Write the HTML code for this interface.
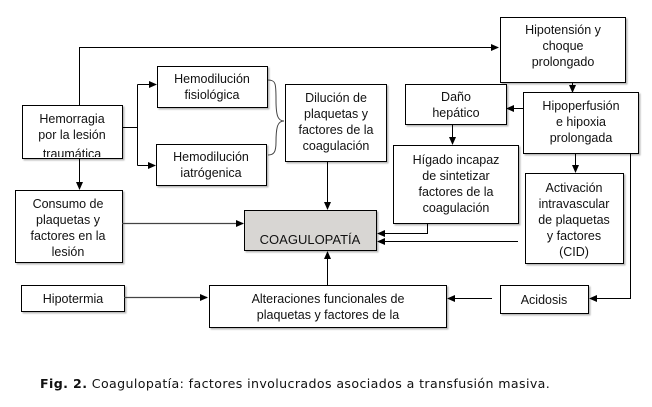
<!DOCTYPE html>
<html><head><meta charset="utf-8"><style>
body{margin:0;background:#fff;width:652px;height:407px;overflow:hidden}
svg{display:block}
text{font-family:"Liberation Sans",Arial,sans-serif;font-size:12.5px;fill:#111}
.cap{font-family:"DejaVu Sans",Verdana,sans-serif;font-size:12.6px;letter-spacing:0.2px}
</style></head><body>
<svg width="652" height="407" viewBox="0 0 652 407" xmlns="http://www.w3.org/2000/svg">
<defs>
<marker id="a" markerWidth="8" markerHeight="8" refX="7" refY="4" orient="auto" markerUnits="userSpaceOnUse"><path d="M0,0.5 L8,4 L0,7.5 z" fill="#000"/></marker>
<filter id="s" x="-5%" y="-5%" width="115%" height="120%"><feDropShadow dx="1.5" dy="1.5" stdDeviation="0.8" flood-color="#999" flood-opacity="0.7"/></filter>
</defs>
<g fill="#fff" stroke="#000" stroke-width="1" filter="url(#s)">
<rect x="22.5" y="105.5" width="100" height="53"/>
<rect x="15.5" y="190.5" width="107" height="72"/>
<rect x="157.5" y="66.5" width="110" height="41"/>
<rect x="156.5" y="144.5" width="110" height="41"/>
<rect x="285.5" y="84.5" width="101" height="77"/>
<rect x="244.5" y="210.5" width="132" height="40" fill="#d8d6d3"/>
<rect x="500.5" y="17.5" width="125" height="65"/>
<rect x="405.5" y="84.5" width="101" height="40"/>
<rect x="523.5" y="92.5" width="115" height="61"/>
<rect x="393.5" y="145.5" width="125" height="78"/>
<rect x="525.5" y="173.5" width="98" height="90"/>
<rect x="21.5" y="285.5" width="103" height="26"/>
<rect x="209.5" y="285.5" width="237" height="42"/>
<rect x="500.5" y="285.5" width="88" height="28"/>
</g>
<g stroke="#000" stroke-width="1" fill="none">
<polyline points="79.5,105 79.5,47.5 498,47.5" marker-end="url(#a)"/>
<line x1="79.5" y1="158" x2="79.5" y2="189" marker-end="url(#a)"/>
<polyline points="122,127.5 137.5,127.5"/>
<polyline points="137.5,84.5 137.5,165.5"/>
<line x1="137.5" y1="84.5" x2="156" y2="84.5" marker-end="url(#a)"/>
<line x1="137.5" y1="165.5" x2="155" y2="165.5" marker-end="url(#a)"/>
<path d="M268,80 C276,80 276,84 276,100 C276,116 278,121 284,121 C278,121 276,126 276,142 C276,152 274,155 268,155" stroke="#444"/>
<line x1="327.5" y1="162" x2="327.5" y2="209" marker-end="url(#a)"/>
<line x1="122" y1="223.5" x2="243" y2="223.5" stroke="#444" stroke-width="1.3" marker-end="url(#a)"/>
<line x1="572.5" y1="83" x2="572.5" y2="92" marker-end="url(#a)"/>
<line x1="523" y1="108.5" x2="507" y2="108.5" marker-end="url(#a)"/>
<line x1="452.5" y1="125" x2="452.5" y2="144" marker-end="url(#a)"/>
<polyline points="427.5,224 427.5,233.5 378,233.5" marker-end="url(#a)"/>
<line x1="518" y1="241.5" x2="378" y2="241.5" marker-end="url(#a)"/>
<line x1="575.5" y1="154" x2="575.5" y2="172" marker-end="url(#a)"/>
<polyline points="630.5,154 630.5,298.5 590,298.5" marker-end="url(#a)"/>
<line x1="492" y1="298.5" x2="448" y2="298.5" marker-end="url(#a)"/>
<line x1="327.5" y1="285" x2="327.5" y2="252" marker-end="url(#a)"/>
<line x1="124" y1="297.5" x2="207" y2="297.5" stroke="#444" stroke-width="1.3" marker-end="url(#a)"/>
</g>
<g text-anchor="middle">
<text x="72" y="123">Hemorragia</text><text x="72" y="139">por la lesión</text>
<svg x="22" y="106" width="100" height="51" overflow="hidden"><text x="50" y="52">traumática</text></svg>
<text x="68" y="208">Consumo de</text><text x="68" y="224">plaquetas y</text><text x="68" y="240">factores en la</text><text x="68" y="256">lesión</text>
<text x="212" y="83">Hemodilución</text><text x="212" y="99">fisiológica</text>
<text x="211" y="161">Hemodilución</text><text x="211" y="177">iatrógenica</text>
<text x="336" y="102">Dilución de</text><text x="336" y="118">plaquetas y</text><text x="336" y="134">factores de la</text><text x="336" y="150">coagulación</text>
<text x="310" y="244" style="font-size:13px">COAGULOPATÍA</text>
<text x="563" y="34">Hipotensión y</text><text x="563" y="50">choque</text><text x="563" y="66">prolongado</text>
<text x="456" y="101">Daño</text><text x="456" y="117">hepático</text>
<text x="581" y="110">Hipoperfusión</text><text x="581" y="126">e hipoxia</text><text x="581" y="142">prolongada</text>
<text x="456" y="164">Hígado incapaz</text><text x="456" y="180">de sintetizar</text><text x="456" y="196">factores de la</text><text x="456" y="212">coagulación</text>
<text x="574" y="192">Activación</text><text x="574" y="208">intravascular</text><text x="574" y="224">de plaquetas</text><text x="574" y="240">y factores</text><text x="574" y="256">(CID)</text>
<text x="73" y="303">Hipotermia</text>
<text x="328" y="303">Alteraciones funcionales de</text><text x="328" y="319">plaquetas y factores de la</text>
<text x="544" y="304">Acidosis</text>
</g>
<text class="cap" x="40" y="388" textLength="510" lengthAdjust="spacing"><tspan font-weight="bold">Fig. 2.</tspan> Coagulopatía:  factores involucrados asociados a transfusión masiva.</text>
</svg>
</body></html>
